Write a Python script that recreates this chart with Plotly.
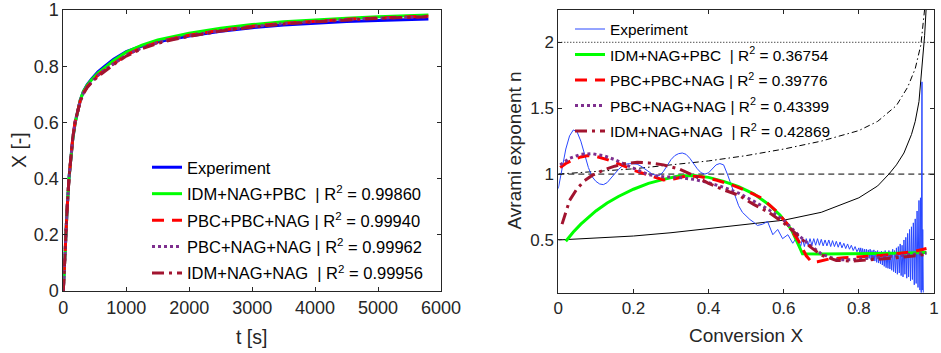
import plotly.graph_objects as go

# ---------------- Left panel data: X vs t ----------------
t_s = [0, 20, 40, 60, 90, 120, 150, 190, 230, 270, 320, 380, 450, 550, 660, 800,
       1000, 1250, 1500, 1750, 2000, 2500, 3000, 3500, 4000, 4500, 5000, 5400, 5800]
X_exp = [0, 0.12, 0.21, 0.29, 0.40, 0.48, 0.54, 0.60, 0.645, 0.68, 0.71, 0.735, 0.755,
         0.78, 0.80, 0.825, 0.852, 0.872, 0.887, 0.898, 0.907, 0.924, 0.937, 0.947,
         0.954, 0.959, 0.963, 0.966, 0.968]
X_idm_nag_pbc = [0, 0.12, 0.21, 0.29, 0.40, 0.48, 0.54, 0.60, 0.645, 0.68, 0.71, 0.733,
                 0.752, 0.775, 0.795, 0.82, 0.85, 0.875, 0.893, 0.906, 0.917, 0.935,
                 0.948, 0.958, 0.965, 0.971, 0.976, 0.979, 0.982]
X_pbc_pbc_nag = [0, 0.12, 0.21, 0.29, 0.40, 0.48, 0.545, 0.605, 0.645, 0.677, 0.705,
                 0.727, 0.745, 0.768, 0.787, 0.81, 0.84, 0.866, 0.885, 0.899, 0.91,
                 0.928, 0.942, 0.953, 0.961, 0.967, 0.972, 0.975, 0.978]
X_pbc_nag_nag = [0, 0.12, 0.21, 0.29, 0.40, 0.48, 0.545, 0.605, 0.645, 0.677, 0.705,
                 0.727, 0.745, 0.768, 0.787, 0.81, 0.84, 0.865, 0.884, 0.898, 0.909,
                 0.927, 0.941, 0.952, 0.96, 0.966, 0.971, 0.974, 0.976]
X_idm_nag_nag = [0, 0.12, 0.21, 0.29, 0.40, 0.48, 0.545, 0.605, 0.645, 0.675, 0.702,
                 0.724, 0.742, 0.763, 0.782, 0.806, 0.836, 0.862, 0.881, 0.895, 0.906,
                 0.925, 0.939, 0.95, 0.958, 0.965, 0.97, 0.973, 0.976]

# ---------------- Right panel data: Avrami exponent n vs X ----------------
conv_exp = [0.000, 0.010, 0.020, 0.030, 0.040, 0.050, 0.060, 0.070, 0.080, 0.090,
            0.100, 0.110, 0.120, 0.130, 0.140, 0.150, 0.160, 0.170, 0.180, 0.190,
            0.200, 0.210, 0.220, 0.230, 0.240, 0.250, 0.260, 0.270, 0.280, 0.290,
            0.300, 0.310, 0.320, 0.330, 0.340, 0.350, 0.360, 0.370, 0.380, 0.390,
            0.400, 0.410, 0.420, 0.430, 0.440, 0.450, 0.460, 0.470, 0.480, 0.490,
            0.500, 0.510, 0.520, 0.530, 0.544, 0.557, 0.571, 0.584, 0.597, 0.611,
            0.624, 0.637,
            0.645, 0.650, 0.655, 0.660, 0.665, 0.670, 0.675, 0.680, 0.685, 0.690,
            0.695, 0.700, 0.705, 0.710, 0.715, 0.720, 0.725, 0.730, 0.735, 0.740,
            0.745, 0.750, 0.755, 0.760, 0.765, 0.770, 0.775, 0.780, 0.785, 0.790,
            0.795, 0.800,
            0.8025, 0.805, 0.8075, 0.810, 0.8125, 0.815, 0.8175, 0.820, 0.8225, 0.825,
            0.8275, 0.830, 0.8325, 0.835, 0.8375, 0.840, 0.8425, 0.845, 0.8475, 0.850,
            0.8525, 0.855, 0.8575, 0.860, 0.8625, 0.865, 0.8675, 0.870, 0.8725, 0.875,
            0.8775, 0.880, 0.8825, 0.885, 0.8875, 0.890, 0.8925, 0.895, 0.8975, 0.900,
            0.9025, 0.905, 0.9075, 0.910, 0.9125, 0.915, 0.9175, 0.920, 0.9225, 0.925,
            0.9275, 0.930, 0.9325, 0.935, 0.9375, 0.940, 0.9425, 0.945, 0.9475, 0.950,
            0.9525, 0.955, 0.9575, 0.960, 0.9625, 0.964, 0.966, 0.968, 0.969, 0.970,
            0.9715]
n_exp = [0.89, 1.05, 1.19, 1.29, 1.335, 1.32, 1.25, 1.15, 1.05, 0.98,
         0.945, 0.925, 0.92, 0.935, 0.97, 1.005, 1.035, 1.06, 1.075, 1.08,
         1.08, 1.075, 1.06, 1.04, 1.02, 1.0, 0.99, 0.99, 1.02, 1.07,
         1.11, 1.14, 1.155, 1.16, 1.15, 1.12, 1.08, 1.04, 1.01, 1.0,
         1.01, 1.04, 1.07, 1.08, 1.07, 1.0, 0.92, 0.85, 0.76, 0.71,
         0.68, 0.655, 0.635, 0.61, 0.62, 0.64, 0.54, 0.58, 0.51, 0.54,
         0.475, 0.53,
         0.45, 0.51, 0.45, 0.51, 0.46, 0.51, 0.46, 0.51, 0.46, 0.51,
         0.46, 0.505, 0.455, 0.50, 0.455, 0.50, 0.45, 0.495, 0.45, 0.49,
         0.445, 0.485, 0.44, 0.475, 0.435, 0.47, 0.43, 0.46, 0.42, 0.45,
         0.41, 0.44,
         0.40, 0.44, 0.39, 0.435, 0.38, 0.43, 0.37, 0.43, 0.365, 0.425,
         0.36, 0.43, 0.35, 0.42, 0.345, 0.425, 0.34, 0.415, 0.33, 0.42,
         0.325, 0.41, 0.32, 0.415, 0.31, 0.41, 0.30, 0.42, 0.29, 0.40,
         0.285, 0.42, 0.28, 0.41, 0.27, 0.43, 0.26, 0.42, 0.25, 0.44,
         0.24, 0.45, 0.25, 0.47, 0.23, 0.46, 0.22, 0.50, 0.24, 0.52,
         0.21, 0.55, 0.22, 0.58, 0.19, 0.60, 0.20, 0.63, 0.16, 0.66,
         0.17, 0.72, 0.14, 0.80, 0.12, 0.82, 0.10, 1.70, 0.12, 0.58,
         0.10]

conv_g = [0.02, 0.04, 0.06, 0.08, 0.10, 0.13, 0.16, 0.20, 0.24, 0.28, 0.32, 0.36, 0.40,
          0.44, 0.48, 0.52, 0.56, 0.59, 0.62, 0.635, 0.650, 0.70, 0.75, 0.80, 0.85,
          0.90, 0.95, 0.98]
n_idm_nag_pbc = [0.49, 0.56, 0.62, 0.67, 0.72, 0.78, 0.83, 0.885, 0.93, 0.96, 0.985,
                 0.99, 0.975, 0.945, 0.905, 0.85, 0.77, 0.69, 0.58, 0.49, 0.395, 0.393,
                 0.393, 0.395, 0.397, 0.399, 0.402, 0.405]

conv_r = [0.005, 0.02, 0.04, 0.06, 0.08, 0.10, 0.13, 0.16, 0.20, 0.24, 0.28, 0.31, 0.34,
          0.38, 0.42, 0.46, 0.50, 0.54, 0.58, 0.61, 0.64, 0.66, 0.675, 0.69, 0.72, 0.76,
          0.80, 0.85, 0.90, 0.95, 0.98]
n_pbc_pbc_nag = [1.05, 1.08, 1.11, 1.13, 1.14, 1.135, 1.11, 1.08, 1.03, 0.99, 0.955,
                 0.965, 0.985, 0.98, 0.955, 0.92, 0.875, 0.82, 0.72, 0.62, 0.49, 0.38,
                 0.33, 0.335, 0.355, 0.365, 0.37, 0.38, 0.395, 0.415, 0.435]

conv_p = [0.005, 0.03, 0.06, 0.09, 0.12, 0.15, 0.18, 0.21, 0.24, 0.28, 0.32, 0.36, 0.40,
          0.44, 0.48, 0.52, 0.56, 0.60, 0.64, 0.67, 0.70, 0.74, 0.78, 0.82, 0.86, 0.90,
          0.94, 0.98]
n_pbc_nag_nag = [1.07, 1.12, 1.15, 1.155, 1.14, 1.11, 1.07, 1.03, 0.995, 0.98, 0.975,
                 0.96, 0.935, 0.9, 0.855, 0.795, 0.73, 0.65, 0.535, 0.46, 0.395, 0.35,
                 0.35, 0.36, 0.37, 0.38, 0.39, 0.40]

conv_d = [0.01, 0.02, 0.03, 0.05, 0.07, 0.09, 0.12, 0.15, 0.18, 0.21, 0.24, 0.28, 0.32,
          0.36, 0.40, 0.44, 0.48, 0.52, 0.56, 0.60, 0.64, 0.67, 0.70, 0.74, 0.78, 0.82,
          0.86, 0.90, 0.94, 0.98]
n_idm_nag_nag = [0.62, 0.72, 0.80, 0.89, 0.95, 0.99, 1.03, 1.06, 1.08, 1.09, 1.085,
                 1.07, 1.04, 0.99, 0.93, 0.88, 0.84, 0.77, 0.71, 0.63, 0.53, 0.45, 0.385,
                 0.345, 0.34, 0.345, 0.355, 0.365, 0.375, 0.39]

# reference curves (black)
conv_ref_a = [0, 0.1, 0.2, 0.3, 0.4, 0.5, 0.6, 0.7, 0.8, 0.85, 0.88, 0.9, 0.92, 0.94,
              0.95, 0.96, 0.97, 0.975, 0.98]
n_ref_a = [0.50, 0.515, 0.53, 0.555, 0.585, 0.615, 0.65, 0.71, 0.82, 0.91, 1.0, 1.07,
           1.16, 1.3, 1.4, 1.55, 1.85, 2.05, 2.3]
conv_ref_b = [0, 0.1, 0.2, 0.3, 0.4, 0.5, 0.6, 0.7, 0.8, 0.85, 0.9, 0.93, 0.95, 0.965,
              0.975]
n_ref_b = [1.0, 1.02, 1.04, 1.07, 1.10, 1.14, 1.19, 1.25, 1.33, 1.40, 1.52, 1.66, 1.80,
           1.98, 2.25]
ref_x_span = [0, 1]
n_level_1 = [1, 1]
n_level_2 = [2, 2]

labels_left = ["Experiment",
               "IDM+NAG+PBC\u00a0\u00a0| R<sup>2</sup> = 0.99860",
               "PBC+PBC+NAG | R<sup>2</sup> = 0.99940",
               "PBC+NAG+NAG | R<sup>2</sup> = 0.99962",
               "IDM+NAG+NAG\u00a0\u00a0| R<sup>2</sup> = 0.99956"]
labels_right = ["Experiment",
                "IDM+NAG+PBC\u00a0\u00a0| R<sup>2</sup> = 0.36754",
                "PBC+PBC+NAG | R<sup>2</sup> = 0.39776",
                "PBC+NAG+NAG | R<sup>2</sup> = 0.43399",
                "IDM+NAG+NAG\u00a0\u00a0| R<sup>2</sup> = 0.42869"]

C_BLUE = "#0000FF"
C_GREEN = "#00FF00"
C_RED = "#FF0000"
C_PURPLE = "#7E2F8E"
C_DRED = "#A2142F"
AX = "#262626"
FONT = "Liberation Sans, Arial, sans-serif"

DASH = "12px,8px"
DASHDOT = "12px,5px,3px,5px"
DOT = "3px,3px"

fig = go.Figure()

# ----- left panel -----
left_series = [
    (X_exp, C_BLUE, "solid"),
    (X_idm_nag_pbc, C_GREEN, "solid"),
    (X_pbc_pbc_nag, C_RED, DASH),
    (X_pbc_nag_nag, C_PURPLE, DOT),
    (X_idm_nag_nag, C_DRED, DASHDOT),
]
for i, (ys, col, dash) in enumerate(left_series):
    fig.add_trace(go.Scatter(x=t_s, y=ys, mode="lines", name=labels_left[i],
                             line=dict(color=col, width=3, dash=dash),
                             xaxis="x", yaxis="y", legend="legend",
                             legendgroup="L%d" % i))

# ----- right panel: reference lines -----
for xs, ys, dash in [(ref_x_span, n_level_2, "1px,2px"),
                     (ref_x_span, n_level_1, "6px,4px"),
                     (conv_ref_a, n_ref_a, "solid"),
                     (conv_ref_b, n_ref_b, "6px,3px,1.5px,3px")]:
    fig.add_trace(go.Scatter(x=xs, y=ys, mode="lines", showlegend=False,
                             line=dict(color="black", width=1, dash=dash),
                             xaxis="x2", yaxis="y2", hoverinfo="skip"))

right_series = [
    (conv_exp, n_exp, "#2a48ff", "solid", 1),
    (conv_g, n_idm_nag_pbc, C_GREEN, "solid", 3),
    (conv_r, n_pbc_pbc_nag, C_RED, DASH, 3),
    (conv_p, n_pbc_nag_nag, C_PURPLE, DOT, 3),
    (conv_d, n_idm_nag_nag, C_DRED, DASHDOT, 3),
]
for i, (xs, ys, col, dash, w) in enumerate(right_series):
    fig.add_trace(go.Scatter(x=xs, y=ys, mode="lines", name=labels_right[i],
                             line=dict(color=col, width=w, dash=dash),
                             xaxis="x2", yaxis="y2", legend="legend2",
                             legendgroup="R%d" % i))

W, H = 941, 353
def px_x(p):
    return p / W
def px_y(p):
    return 1 - p / H

axis_common = dict(showgrid=False, zeroline=False, showline=True, linecolor=AX,
                   linewidth=1, mirror="ticks", ticks="inside", ticklen=4,
                   tickcolor=AX, tickwidth=1, automargin=False)

fig.update_layout(
    width=W, height=H,
    margin=dict(l=0, r=0, t=0, b=0),
    paper_bgcolor="white", plot_bgcolor="white",
    font=dict(family=FONT, color=AX),
    xaxis=dict(domain=[px_x(63.3), px_x(441)], range=[0, 6000],
               tickvals=[0, 1000, 2000, 3000, 4000, 5000, 6000],
               ticktext=["0", "1000", "2000", "3000", "4000", "5000", "6000"],
               tickfont=dict(size=18, color=AX), anchor="y", **axis_common),
    yaxis=dict(domain=[px_y(291), px_y(10)], range=[0, 1],
               tickvals=[0, 0.2, 0.4, 0.6, 0.8, 1],
               ticktext=["0", "0.2", "0.4", "0.6", "0.8", "1"],
               tickfont=dict(size=18, color=AX), anchor="x", **axis_common),
    xaxis2=dict(domain=[px_x(558.3), px_x(934)], range=[0, 1],
                tickvals=[0, 0.2, 0.4, 0.6, 0.8, 1],
                ticktext=["0", "0.2", "0.4", "0.6", "0.8", "1"],
                tickfont=dict(size=17, color=AX), anchor="y2", **axis_common),
    yaxis2=dict(domain=[px_y(292.7), px_y(10)], range=[0.1, 2.245],
                tickvals=[0.5, 1, 1.5, 2],
                ticktext=["0.5", "1", "1.5", "2"],
                tickfont=dict(size=17, color=AX), anchor="x2", **axis_common),
    legend=dict(x=px_x(147), y=px_y(150), xanchor="left", yanchor="top",
                bgcolor="rgba(0,0,0,0)", font=dict(size=16.5, color="black"),
                traceorder="grouped", tracegroupgap=2, borderwidth=0),
    legend2=dict(x=px_x(570), y=px_y(12.5), xanchor="left", yanchor="top",
                 bgcolor="rgba(0,0,0,0)", font=dict(size=15.4, color="black"),
                 traceorder="grouped", tracegroupgap=2.5, borderwidth=0),
    annotations=[
        dict(text="t [s]", x=px_x(252), y=px_y(337), xref="paper", yref="paper",
             xanchor="center", yanchor="middle",
             showarrow=False, font=dict(size=19.5, color=AX)),
        dict(text="X [-]", x=px_x(18.5), y=px_y(150.5), xref="paper", yref="paper",
             xanchor="center", yanchor="middle",
             showarrow=False, textangle=-90, font=dict(size=19.5, color=AX)),
        dict(text="Conversion X", x=px_x(746), y=px_y(335), xref="paper", yref="paper",
             xanchor="center", yanchor="middle",
             showarrow=False, font=dict(size=19, color=AX)),
        dict(text="Avrami exponent n", x=px_x(513.5), y=px_y(151), xref="paper",
             yref="paper", xanchor="center", yanchor="middle",
             showarrow=False, textangle=-90, font=dict(size=19, color=AX)),
    ],
)

fig.write_html("out.html",
               config=dict(displayModeBar=False, staticPlot=True),
               post_script="document.body.style.margin='0px';"
                           "document.body.style.overflow='hidden';")
